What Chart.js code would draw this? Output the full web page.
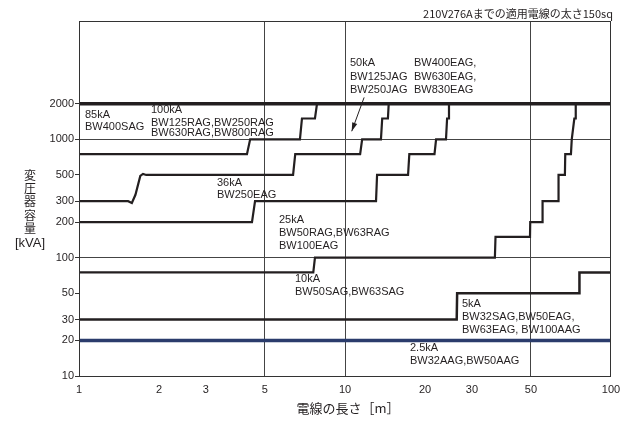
<!DOCTYPE html>
<html>
<head>
<meta charset="utf-8">
<script src="https://cdn.jsdelivr.net/npm/chart.js@4"></script>
<style>
  html, body { margin: 0; padding: 0; background: #fff; }
  #wrap { width: 634px; height: 421px; position: relative; }
</style>
</head>
<body>
<div id="wrap"><canvas id="chart"></canvas></div>
<script>
// axis ticks
const xTicks = [1, 2, 3, 5, 10, 20, 30, 50, 100];
const yTicks = [10, 20, 30, 50, 100, 200, 300, 500, 1000, 2000];
const xGrid = [5, 10, 50];
const yGrid = [100, 1000, 2000];

// wire length [m] vs transformer capacity [kVA] for each breaker group
const kA85_len = [1, 100];
const kA85_kva = [2000, 2000];

const kA100_len = [1, 4.28, 4.40, 6.77, 6.89, 7.71, 7.85, 100];
const kA100_kva = [750, 750, 1000, 1000, 1500, 1500, 2000, 2000];

const kA50_len = [1, 1.53, 1.58, 1.63, 1.70, 1.74, 1.79, 6.38, 6.50, 11.4, 11.6, 13.65, 13.8, 14.5, 14.6, 100];
const kA50_kva = [300, 300, 290, 340, 490, 510, 500, 500, 750, 750, 1000, 1000, 1500, 1500, 2000, 2000];

const kA36_len = [1, 4.47, 4.59, 13.08, 13.2, 17.26, 17.45, 21.7, 22.0, 23.97, 24.2, 24.4, 24.6, 100];
const kA36_kva = [200, 200, 300, 300, 500, 500, 750, 750, 1000, 1000, 1500, 1500, 2000, 2000];

const kA25_len = [1, 7.60, 7.71, 36.6, 36.8, 49.6, 49.7, 55.2, 55.3, 63.4, 63.5, 67.1, 67.3, 70.7, 71.2, 72.8, 73.3, 73.7, 100];
const kA25_kva = [75, 75, 100, 100, 150, 150, 200, 200, 300, 300, 500, 500, 750, 750, 1000, 1500, 1500, 2000, 2000];

const kA10_len = [1, 26.3, 26.4, 76.0, 76.1, 100];
const kA10_kva = [30, 30, 50, 50, 75, 75];

const kA2_5_len = [1, 100];
const kA2_5_kva = [20, 20];

function pts(xs, ys) {
    return xs.map((x, i) => ({ x: x, y: ys[i] }));
}

const black = '#231f20';
const navy = '#2b3c6c';

// text notes, offsets from the plot's top left corner
const notes = [
    ['85kA', 6, 94], ['BW400SAG', 6, 106],
    ['100kA', 72, 89], ['BW125RAG,BW250RAG', 72, 102], ['BW630RAG,BW800RAG', 72, 112],
    ['50kA', 271, 42], ['BW125JAG', 271, 56], ['BW250JAG', 271, 69],
    ['BW400EAG,', 335, 42], ['BW630EAG,', 335, 56], ['BW830EAG', 335, 69],
    ['36kA', 138, 162], ['BW250EAG', 138, 174],
    ['25kA', 200, 199], ['BW50RAG,BW63RAG', 200, 212], ['BW100EAG', 200, 225],
    ['10kA', 216, 258], ['BW50SAG,BW63SAG', 216, 271],
    ['5kA', 383, 283], ['BW32SAG,BW50EAG,', 383, 296], ['BW63EAG, BW100AAG', 383, 309],
    ['2.5kA', 331, 327], ['BW32AAG,BW50AAG', 331, 340]
];

const cjkFont = '"Noto Sans CJK JP", "Liberation Sans", sans-serif';

const textPlugin = {
    id: 'texts',
    afterDraw(chart) {
        const ctx = chart.ctx;
        const a = chart.chartArea;
        const xs = chart.scales.x;
        const ys = chart.scales.y;
        ctx.save();

        // frame
        ctx.strokeStyle = '#333';
        ctx.lineWidth = 1;
        ctx.strokeRect(a.left + 0.5, a.top + 0.5, a.right - a.left - 1, a.bottom - a.top);

        ctx.fillStyle = black;
        ctx.font = '11px "Liberation Sans", Arial, sans-serif';
        ctx.textBaseline = 'middle';
        ctx.textAlign = 'left';
        notes.forEach(n => ctx.fillText(n[0], a.left + n[1], a.top + n[2]));

        // arrow for 50kA note
        const x1 = xs.getPixelForValue(11.8), y1 = ys.getPixelForValue(2260);
        const x2 = xs.getPixelForValue(10.6), y2 = ys.getPixelForValue(1170);
        ctx.strokeStyle = black;
        ctx.lineWidth = 1;
        ctx.beginPath();
        ctx.moveTo(x1, y1);
        ctx.lineTo(x2, y2);
        ctx.stroke();
        const ang = Math.atan2(y2 - y1, x2 - x1);
        ctx.beginPath();
        ctx.moveTo(x2, y2);
        ctx.lineTo(x2 - 9 * Math.cos(ang - 0.3), y2 - 9 * Math.sin(ang - 0.3));
        ctx.lineTo(x2 - 9 * Math.cos(ang + 0.3), y2 - 9 * Math.sin(ang + 0.3));
        ctx.closePath();
        ctx.fill();

        // top right caption
        ctx.textAlign = 'right';
        ctx.font = '11px ' + cjkFont;
        ctx.fillText('210V276Aまでの適用電線の太さ150sq', a.right + 2, 14);

        // axis titles
        ctx.textAlign = 'center';
        ctx.font = '13px ' + cjkFont;
        ctx.fillText('電線の長さ［m］', 348, 408);
        ctx.font = '12px ' + cjkFont;
        const yt = ['変', '圧', '器', '容', '量'];
        yt.forEach((c, i) => ctx.fillText(c, 30, 175 + i * 13.4));
        ctx.font = '13px "Liberation Sans", Arial, sans-serif';
        ctx.fillText('[kVA]', 30, 243);
        ctx.restore();
    }
};

function lineSet(xs, ys, color, width) {
    return {
        data: pts(xs, ys),
        borderColor: color,
        borderWidth: width,
        pointRadius: 0,
        fill: false,
        tension: 0
    };
}

new Chart(document.getElementById('chart'), {
    type: 'line',
    data: {
        datasets: [
            lineSet(kA2_5_len, kA2_5_kva, navy, 3.5),
            lineSet(kA10_len, kA10_kva, black, 2.5),
            lineSet(kA25_len, kA25_kva, black, 2.2),
            lineSet(kA36_len, kA36_kva, black, 2.2),
            lineSet(kA50_len, kA50_kva, black, 2.2),
            lineSet(kA100_len, kA100_kva, black, 2.2),
            lineSet(kA85_len, kA85_kva, black, 3.5)
        ]
    },
    options: {
        responsive: true,
        maintainAspectRatio: false,
        animation: false,
        layout: { padding: { top: 21, right: 23, left: 0, bottom: 0 } },
        plugins: {
            legend: { display: false },
            tooltip: { enabled: false }
        },
        scales: {
            x: {
                type: 'logarithmic',
                min: 1,
                max: 100,
                afterBuildTicks: s => { s.ticks = xTicks.map(v => ({ value: v })); },
                afterFit: s => { s.height = 45; },
                border: { display: false },
                grid: {
                    drawTicks: false,
                    color: c => xGrid.includes(c.tick && c.tick.value) ? '#444' : 'rgba(0,0,0,0)',
                    lineWidth: 1
                },
                ticks: {
                    autoSkip: false,
                    maxRotation: 0,
                    padding: 7,
                    color: black,
                    font: { family: '"Liberation Sans", Arial', size: 11 },
                    callback: v => String(v)
                }
            },
            y: {
                type: 'logarithmic',
                min: 10,
                max: 10000,
                afterBuildTicks: s => { s.ticks = yTicks.map(v => ({ value: v })); },
                afterFit: s => { s.width = 79; },
                border: { display: false },
                grid: {
                    drawTicks: true,
                    tickLength: 4,
                    tickColor: '#333',
                    color: c => yGrid.includes(c.tick && c.tick.value) ? '#444' : 'rgba(0,0,0,0)',
                    lineWidth: 1
                },
                ticks: {
                    autoSkip: false,
                    padding: 1,
                    color: black,
                    font: { family: '"Liberation Sans", Arial', size: 11 },
                    callback: v => String(v)
                }
            }
        }
    },
    plugins: [textPlugin]
});
</script>
</body>
</html>
